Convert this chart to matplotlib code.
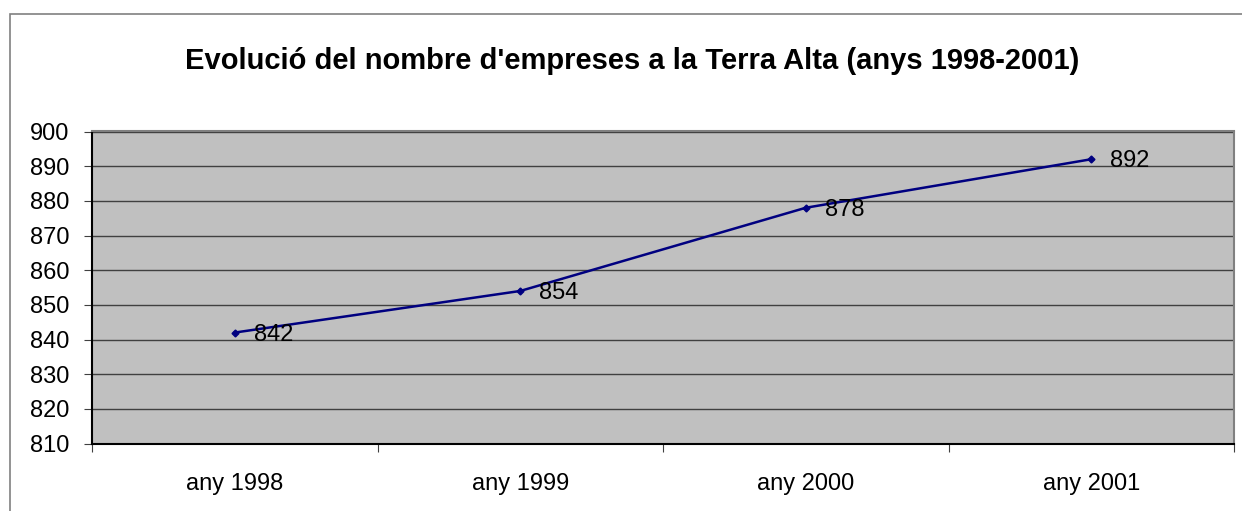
import matplotlib.pyplot as plt
from matplotlib.patches import Rectangle

plt.rcParams['font.family'] = ['Liberation Sans', 'DejaVu Sans']

years = ['any 1998', 'any 1999', 'any 2000', 'any 2001']
empreses = [842, 854, 878, 892]
yticks = list(range(810, 901, 10))

fig = plt.figure(figsize=(12.42, 5.11), dpi=100)
# chart area border
fig.patches.append(Rectangle((10 / 1242, -0.01), 1.1, 1 - 14 / 511 + 0.01,
                             transform=fig.transFigure, fill=False,
                             edgecolor='#808080', linewidth=1.2))

ax = fig.add_axes([92 / 1242, 1 - 443.5 / 511, (1234 - 92) / 1242, (443.5 - 131.5) / 511])
ax.set_facecolor('#C0C0C0')

x = list(range(len(years)))
ax.plot(x, empreses, color='#000080', linewidth=1.8, marker='D', markersize=3.5, zorder=3)
for xi, v in zip(x, empreses):
    ax.annotate(str(v), (xi, v), xytext=(19, -2), textcoords='offset pixels',
                ha='left', va='center', fontsize=17, color='black', zorder=4)

ax.set_xlim(-0.5, 3.5)
ax.set_ylim(810, 900)
ax.set_yticks(yticks)
ax.set_xticks([i - 0.5 for i in range(len(years) + 1)])
ax.set_xticklabels([])
ax.set_xticks(x, minor=True)
ax.set_xticklabels(years, minor=True, fontsize=17)
ax.tick_params(axis='x', which='minor', length=0, pad=21)
ax.tick_params(axis='x', which='major', length=6, direction='out', color='#404040')
ax.tick_params(axis='y', labelsize=17, length=6, direction='out', color='#404040', pad=10.5)
ax.yaxis.grid(True, color='#404040', linewidth=1)
ax.set_axisbelow(True)

for s in ['left', 'bottom']:
    ax.spines[s].set_color('black')
    ax.spines[s].set_linewidth(1.5)
for s in ['top', 'right']:
    ax.spines[s].set_color('#808080')
    ax.spines[s].set_linewidth(1.5)

fig.text(632 / 1242, 1 - 61 / 511, "Evolució del nombre d'empreses a la Terra Alta (anys 1998-2001)",
         ha='center', va='center', fontsize=21, fontweight='bold')

fig.savefig('out.png', dpi=100)
